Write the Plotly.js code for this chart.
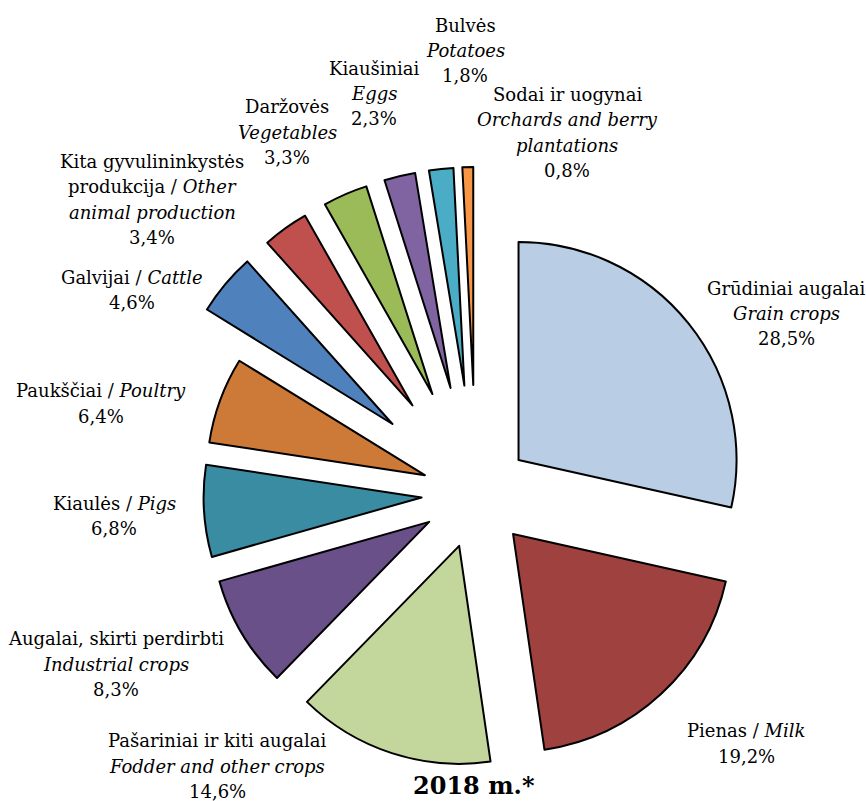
<!DOCTYPE html>
<html>
<head>
<meta charset="utf-8">
<script src="https://cdn.plot.ly/plotly-3.0.1.min.js"></script>
<style>
html,body{margin:0;padding:0;overflow:hidden;background:#fff;}
#chart{width:866px;height:830px;}
</style>
</head>
<body>
<div id="chart"></div>
<script>
// Data
var labelsLt = ["Grūdiniai augalai","Pienas","Pašariniai ir kiti augalai","Augalai, skirti perdirbti","Kiaulės","Paukščiai","Galvijai","Kita gyvulininkystės produkcija","Daržovės","Kiaušiniai","Bulvės","Sodai ir uogynai"];
var labelsEn = ["Grain crops","Milk","Fodder and other crops","Industrial crops","Pigs","Poultry","Cattle","Other animal production","Vegetables","Eggs","Potatoes","Orchards and berry plantations"];
var values = [28.5,19.2,14.6,8.3,6.8,6.4,4.6,3.4,3.3,2.3,1.8,0.8];
var title = "2018 m.*";

// Styles
var colors = ["#B9CDE5","#9E413F","#C3D69B","#6A5088","#3A8CA2","#CD7937","#4F81BD","#C0504D","#9BBB59","#8064A2","#4BACC6","#F79646"];
var pulls = [0.25,0.25,0.25,0.25,0.25,0.25,0.5,0.5,0.5,0.5,0.5,0.5];

function fmt(v){ return v.toFixed(1).replace(".", ",") + "%"; }

// label lines (wrapping as in the reference)
var labelLines = [
  [labelsLt[0], "<i>"+labelsEn[0]+"</i>"],
  [labelsLt[1]+" / <i>"+labelsEn[1]+"</i>"],
  [labelsLt[2], "<i>"+labelsEn[2]+"</i>"],
  [labelsLt[3], "<i>"+labelsEn[3]+"</i>"],
  [labelsLt[4]+" / <i>"+labelsEn[4]+"</i>"],
  [labelsLt[5]+" / <i>"+labelsEn[5]+"</i>"],
  [labelsLt[6]+" / <i>"+labelsEn[6]+"</i>"],
  ["Kita gyvulininkystės", "produkcija / <i>Other</i>", "<i>animal production</i>"],
  [labelsLt[8], "<i>"+labelsEn[8]+"</i>"],
  [labelsLt[9], "<i>"+labelsEn[9]+"</i>"],
  [labelsLt[10], "<i>"+labelsEn[10]+"</i>"],
  [labelsLt[11], "<i>Orchards and berry</i>", "<i>plantations</i>"]
];
// label block centres in pixels
var labelPx = [[786,313.5],[746,743.5],[217,766],[116,664],[114,516],[101,403.5],[132,290],[152,199.5],[287,132],[374,93.5],[465,50.5],[567,132.5]];
var lineGap = 25.4;

var W = 866, H = 830;
var cx = 476, cy = 494, box = 654;
var fontFam = "DejaVu Serif, serif";

var annotations = [];
labelLines.forEach(function(lines,i){
  var all = lines.concat([fmt(values[i])]);
  var n = all.length;
  all.forEach(function(t,k){
    var py = labelPx[i][1] + (k - (n-1)/2) * lineGap;
    annotations.push({
      xref:"paper", yref:"paper",
      x: labelPx[i][0]/W, y: 1 - py/H,
      xanchor:"center", yanchor:"middle",
      text: t, showarrow:false, align:"center",
      font:{family:fontFam, size:18, color:"#000"}
    });
  });
});
annotations.push({
  xref:"paper", yref:"paper", x:474/W, y:1-785/H, xanchor:"center", yanchor:"middle",
  text:"<b>"+title+"</b>", showarrow:false,
  font:{family:fontFam, size:24, color:"#000"}
});

var trace = {
  type:"pie",
  values: values,
  labels: labelsEn,
  sort:false,
  direction:"clockwise",
  rotation:0,
  pull: pulls,
  textinfo:"none",
  hoverinfo:"label+percent",
  marker:{colors:colors, line:{color:"#000", width:2}},
  domain:{x:[(cx-box/2)/W,(cx+box/2)/W], y:[1-(cy+box/2)/H, 1-(cy-box/2)/H]},
  showlegend:false
};

Plotly.newPlot("chart",[trace],{
  width:W, height:H,
  margin:{l:0,r:0,t:0,b:0},
  paper_bgcolor:"#fff",
  showlegend:false,
  annotations:annotations
},{displayModeBar:false, staticPlot:true});
</script>
</body>
</html>
